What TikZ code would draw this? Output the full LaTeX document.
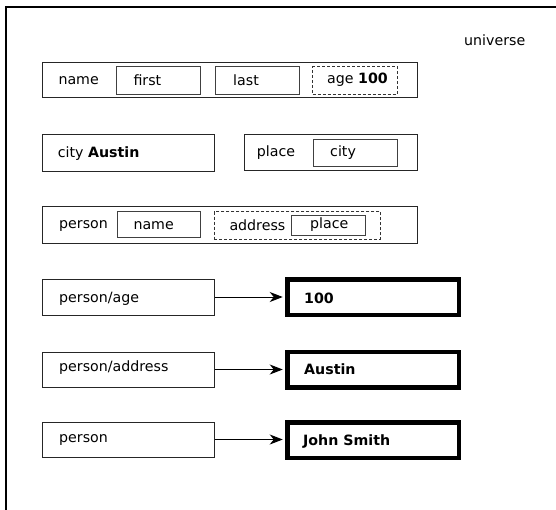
\documentclass[tikz,border=0pt]{standalone}
\usepackage{fontspec}
\setmainfont{DejaVu Sans}
\usetikzlibrary{arrows.meta}
\begin{document}
\begin{tikzpicture}[x=1pt,y=-1pt,
  font=\fontsize{14.2}{17}\selectfont,
  outerbox/.style={draw=black!85,line width=1pt,minimum width=#1,inner sep=0pt},
  innerbox/.style={draw=black!75,line width=1pt,minimum width=#1,inner sep=0pt},
  optbox/.style={draw=black!80,line width=1pt,dash pattern=on 3pt off 2pt,minimum width=#1,inner sep=0pt},
  valbox/.style={draw=black,line width=4.5pt,minimum width=171.5pt,minimum height=35.5pt,inner sep=0pt},
  txt/.style={inner sep=0pt,anchor=base west},
  conn/.style={draw=black,line width=1pt,-{Stealth[length=13pt,width=10pt,inset=4pt]},shorten >=2.25pt},
  frameline/.style={draw=black,line width=2pt}]
\useasboundingbox (0,0) rectangle (556,509);

% frame of the universe
\coordinate (fbl) at (6,520);
\coordinate (ftl) at (6,7.3);
\coordinate (ftr) at (570,7.3);
\draw[frameline] (fbl) -- (ftl) -- (ftr);
\node[txt] (universe) at (464,45) {universe};

% name record
\node[outerbox=374.6pt,minimum height=35.4pt] (namebox) at (230,80) {};
\node[txt] (nameT) at (58.3,84.3) {name};
\node[innerbox=83.3pt,minimum height=27.6pt] (firstbox) at (158.35,80.5) {};
\node[txt] (firstT) at (133.3,85.7) {first};
\node[innerbox=83.7pt,minimum height=27.6pt] (lastbox) at (257.15,80.5) {};
\node[txt] (lastT) at (233,85.7) {last};
\node[optbox=84.6pt,minimum height=27.6pt] (agebox) at (355,80.5) {};
\node[txt] (ageT) at (327,83.3) {age \textbf{100}};

% city and place
\node[outerbox=171.3pt,minimum height=37pt] (citybox) at (128.35,152.5) {};
\node[txt] (cityT) at (57.7,157.3) {city \textbf{Austin}};
\node[outerbox=173pt,minimum height=36pt] (placebox) at (330.5,152) {};
\node[txt] (placeT) at (256.7,156.7) {place};
\node[innerbox=84pt,minimum height=27pt] (pcitybox) at (355,152.5) {};
\node[txt] (pcityT) at (330,156) {city};

% person record
\node[outerbox=374.3pt,minimum height=37.3pt] (personbox) at (229.85,224.65) {};
\node[txt] (personT) at (59,228.3) {person};
\node[innerbox=83pt,minimum height=26pt] (pnamebox) at (158.5,224) {};
\node[txt] (pnameT) at (133.3,229.3) {name};
\node[optbox=166.4pt,minimum height=27.3pt] (addrbox) at (297.5,225.35) {};
\node[txt] (addrT) at (229.3,230) {address};
\node[innerbox=74.7pt,minimum height=20pt] (pplacebox) at (328.35,225) {};
\node[txt] (pplaceT) at (310,228.3) {place};

% paths and their values
\node[outerbox=172pt,minimum height=36pt] (pathA) at (128.7,297) {};
\node[txt] (pathAT) at (59,302.3) {person/age};
\node[valbox] (valA) at (373,297) {};
\node[txt] (valAT) at (304,303.3) {\textbf{100}};

\node[outerbox=172pt,minimum height=35pt] (pathB) at (128.7,369.5) {};
\node[txt] (pathBT) at (59,371.7) {person/address};
\node[valbox] (valB) at (373,369.5) {};
\node[txt] (valBT) at (304,374.3) {\textbf{Austin}};

\node[outerbox=172pt,minimum height=35pt] (pathC) at (128.7,439.5) {};
\node[txt] (pathCT) at (59,442.7) {person};
\node[valbox] (valC) at (373,440) {};
\node[txt] (valCT) at (303,445) {\textbf{John Smith}};

\draw[conn] (pathA.east) -- (pathA.east -| valA.west);
\draw[conn] (pathB.east) -- (pathB.east -| valB.west);
\draw[conn] (pathC.east) -- (pathC.east -| valC.west);
\end{tikzpicture}
\end{document}
